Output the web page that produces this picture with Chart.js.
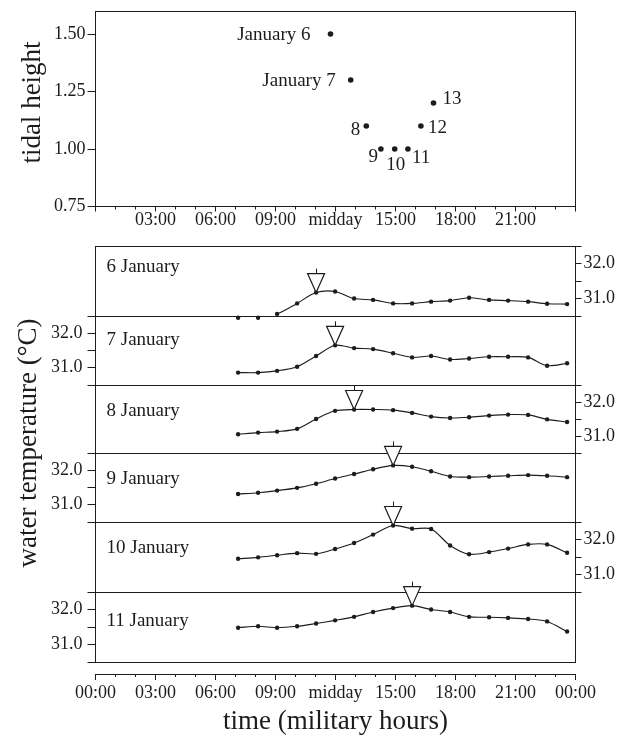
<!DOCTYPE html>
<html><head><meta charset="utf-8">
<script src="https://cdn.jsdelivr.net/npm/chart.js@4.4.1/dist/chart.umd.min.js"></script>
<style>
html,body{margin:0;padding:0;background:#fff;}
#wrap{position:relative;width:631px;height:738px;overflow:hidden;background:#fff;}
#wrap canvas{position:absolute;left:0;top:0;}
</style></head><body><div id="wrap"></div>
<script>
// ---------------- DATA ----------------
// sampling times (hours) of the water-temperature readings
const hours = [7.13, 8.13, 9.08, 10.08, 11.03, 11.98, 12.93, 13.88, 14.88, 15.83, 16.78, 17.73, 18.68, 19.68, 20.63, 21.63, 22.58, 23.58];
const stripNames = ['6 January', '7 January', '8 January', '9 January', '10 January', '11 January'];
const temp6Jan  = [30.45, 30.45, 30.56, 30.86, 31.17, 31.20, 31.00, 30.96, 30.86, 30.86, 30.91, 30.94, 31.02, 30.96, 30.94, 30.91, 30.85, 30.84];
const temp7Jan  = [30.86, 30.86, 30.91, 31.03, 31.34, 31.65, 31.57, 31.54, 31.42, 31.30, 31.34, 31.24, 31.27, 31.32, 31.32, 31.30, 31.06, 31.13];
const temp8Jan  = [31.05, 31.10, 31.13, 31.21, 31.50, 31.74, 31.78, 31.78, 31.76, 31.68, 31.57, 31.53, 31.55, 31.60, 31.63, 31.62, 31.49, 31.41];
const temp9Jan  = [31.31, 31.35, 31.41, 31.49, 31.61, 31.76, 31.89, 32.03, 32.14, 32.10, 31.97, 31.82, 31.80, 31.82, 31.84, 31.86, 31.84, 31.80];
const temp10Jan = [31.45, 31.49, 31.55, 31.61, 31.59, 31.73, 31.90, 32.14, 32.40, 32.31, 32.30, 31.83, 31.58, 31.64, 31.74, 31.86, 31.86, 31.62];
const temp11Jan = [31.48, 31.52, 31.48, 31.52, 31.60, 31.69, 31.79, 31.93, 32.04, 32.11, 32.00, 31.93, 31.79, 31.78, 31.76, 31.73, 31.66, 31.37];
// index of the reading marked by the high-tide triangle in each strip
const peakIndex = [4, 5, 6, 8, 8, 9];

// tidal heights (top panel)
const tideHours   = [11.75, 12.76, 13.54, 14.27, 14.96, 15.62, 16.27, 16.90];
const tideHeights = [1.50, 1.30, 1.10, 1.00, 1.00, 1.00, 1.10, 1.20];
const tideLabels  = ['January 6', 'January 7', '8', '9', '10', '11', '12', '13'];

// tick values / labels
const timeTickValues   = [0, 3, 6, 9, 12, 15, 18, 21, 24];
const topTimeLabels    = ['', '03:00', '06:00', '09:00', 'midday', '15:00', '18:00', '21:00', ''];
const bottomTimeLabels = ['00:00', '03:00', '06:00', '09:00', 'midday', '15:00', '18:00', '21:00', '00:00'];
const minorHourTicks   = [1, 2, 4, 5, 7, 8, 10, 11, 13, 14, 16, 17, 19, 20, 22, 23];
const tideTickValues   = [0.75, 1.00, 1.25, 1.50];
const tempTickValues   = [30.5, 31.0, 31.5, 32.0, 32.5];
const tempTickLabels   = ['', '31.0', '', '32.0', ''];

// ---------------- LAYOUT / STYLE ----------------
const W = 631, H = 738, L = 95.5, R = 575.5;
const INK = '#1c1c1c';
const SERIF = '"Liberation Serif", "Times New Roman", serif';
const TEMP_MIN = 30.5, TEMP_MAX = 32.5;
const stripBox = [[246, 316], [316, 385], [385, 453], [453, 522], [522, 592], [592, 662]];
const stripAxisSide = ['right', 'left', 'right', 'left', 'right', 'left'];
const stripLabelDy = [21, 24, 26, 26, 26, 29];
const tideLabelStyle = [
  {align: 'right', dx: -20, dy: 1}, {align: 'right', dx: -15, dy: 1},
  {align: 'right', dx: -6, dy: 4},  {align: 'right', dx: -3, dy: 8},
  {align: 'center', dx: 1, dy: 16}, {align: 'left', dx: 4, dy: 9},
  {align: 'left', dx: 7, dy: 2},    {align: 'left', dx: 9, dy: -4}
];

Chart.defaults.font.family = SERIF;
Chart.defaults.color = INK;

const wrap = document.getElementById('wrap');
function makeCanvas() {
  const c = document.createElement('canvas');
  c.width = W; c.height = H;
  c.style.width = W + 'px'; c.style.height = H + 'px';
  wrap.appendChild(c);
  return c;
}
const al = v => Math.round(v - 0.5) + 0.5;

// ---------------- PLUGINS ----------------
const framePlugin = {
  id: 'frame',
  beforeDatasetsDraw(chart, args, opts) {
    if (!opts.on) return;
    const {ctx, chartArea: a} = chart;
    ctx.save();
    ctx.strokeStyle = INK; ctx.lineWidth = 1;
    ctx.strokeRect(al(a.left), al(a.top), al(a.right) - al(a.left), al(a.bottom) - al(a.top));
    ctx.restore();
  }
};
const minorTickPlugin = {
  id: 'minorTicks',
  afterDraw(chart, args, opts) {
    if (!opts.values) return;
    const s = chart.scales.x, ctx = chart.ctx;
    ctx.save();
    ctx.strokeStyle = INK; ctx.lineWidth = 1;
    ctx.beginPath();
    opts.values.forEach(v => {
      const x = al(s.getPixelForValue(v));
      ctx.moveTo(x, s.top); ctx.lineTo(x, s.top + opts.len);
    });
    ctx.stroke();
    ctx.restore();
  }
};
const vTitlePlugin = {
  id: 'vTitles',
  afterDraw(chart, args, opts) {
    if (!opts.items) return;
    const ctx = chart.ctx;
    opts.items.forEach(it => {
      ctx.save();
      ctx.translate(it.x, it.y);
      ctx.rotate(-Math.PI / 2);
      ctx.font = '27px ' + SERIF;
      ctx.fillStyle = INK;
      ctx.textAlign = 'center'; ctx.textBaseline = 'middle';
      ctx.fillText(it.text, 0, 0);
      ctx.restore();
    });
  }
};
const stripLabelPlugin = {
  id: 'stripLabel',
  afterDraw(chart, args, opts) {
    if (!opts.text) return;
    const {ctx, chartArea: a} = chart;
    ctx.save();
    ctx.font = '19px ' + SERIF; ctx.fillStyle = INK;
    ctx.textAlign = 'left'; ctx.textBaseline = 'middle';
    ctx.fillText(opts.text, a.left + 11, a.top + opts.dy);
    ctx.restore();
  }
};
const markerPlugin = {
  id: 'tideMarker',
  afterDatasetsDraw(chart, args, opts) {
    if (opts.index == null) return;
    const p = chart.getDatasetMeta(0).data[opts.index];
    if (!p) return;
    const ctx = chart.ctx, hw = 8.5, h = 19;
    ctx.save();
    ctx.beginPath();
    ctx.moveTo(p.x, p.y);
    ctx.lineTo(p.x - hw, p.y - h);
    ctx.lineTo(p.x + hw, p.y - h);
    ctx.closePath();
    ctx.fillStyle = '#fff'; ctx.fill();
    ctx.strokeStyle = INK; ctx.lineWidth = 1.2; ctx.stroke();
    ctx.beginPath();
    ctx.moveTo(al(p.x), p.y - h); ctx.lineTo(al(p.x), p.y - h - 5);
    ctx.lineWidth = 1; ctx.stroke();
    ctx.restore();
  }
};
const tideLabelPlugin = {
  id: 'tideLabels',
  afterDatasetsDraw(chart, args, opts) {
    if (!opts.on) return;
    const ctx = chart.ctx, pts = chart.getDatasetMeta(0).data;
    ctx.save();
    ctx.font = '19px ' + SERIF; ctx.fillStyle = INK; ctx.textBaseline = 'middle';
    pts.forEach((p, i) => {
      const st = tideLabelStyle[i];
      ctx.textAlign = st.align;
      ctx.fillText(tideLabels[i], p.x + st.dx, p.y + st.dy);
    });
    ctx.restore();
  }
};
const allPlugins = [framePlugin, minorTickPlugin, vTitlePlugin, stripLabelPlugin, markerPlugin, tideLabelPlugin];
const basePlugins = {legend: {display: false}, tooltip: {enabled: false}};

// ---------------- TOP PANEL: tidal height ----------------
new Chart(makeCanvas(), {
  type: 'scatter',
  data: {datasets: [{
    data: tideHours.map((h, i) => ({x: h, y: tideHeights[i]})),
    pointRadius: 2.8, pointBackgroundColor: INK, pointBorderWidth: 0, showLine: false
  }]},
  options: {
    responsive: false, animation: false, events: [],
    layout: {padding: {top: 10, left: 0, right: W - R, bottom: H - 206.5 - 30}},
    scales: {
      x: {
        type: 'linear', min: 0, max: 24, position: 'bottom',
        afterFit: s => { s.height = 30; },
        afterBuildTicks: s => { s.ticks = timeTickValues.map(v => ({value: v})); },
        ticks: {callback: (v, i) => topTimeLabels[i], autoSkip: false, maxRotation: 0, padding: 0,
                font: {size: 18, lineHeight: 1}, color: INK},
        grid: {drawOnChartArea: false, tickLength: 5, color: INK},
        border: {display: true, color: INK}
      },
      y: {
        type: 'linear', min: 0.75, max: 1.6, position: 'left',
        afterFit: s => { s.width = L; },
        afterBuildTicks: s => { s.ticks = tideTickValues.map(v => ({value: v})); },
        ticks: {callback: v => Number(v).toFixed(2), autoSkip: false, padding: 2,
                font: {size: 18, lineHeight: 1}, color: INK},
        grid: {drawOnChartArea: false, tickLength: 8, color: INK},
        border: {display: true, color: INK}
      }
    },
    plugins: Object.assign({}, basePlugins, {
      frame: {on: true},
      minorTicks: {values: minorHourTicks, len: 3},
      vTitles: {items: [{text: 'tidal height', x: 33, y: 102.5}]},
      tideLabels: {on: true}
    })
  },
  plugins: allPlugins
});

// ---------------- STRIPS: water temperature ----------------
const stripTemps = [temp6Jan, temp7Jan, temp8Jan, temp9Jan, temp10Jan, temp11Jan];
stripTemps.forEach((vals, k) => {
  const [top, bottom] = stripBox[k];
  const side = stripAxisSide[k];
  new Chart(makeCanvas(), {
    type: 'line',
    data: {datasets: [{
      data: hours.map((h, i) => ({x: h, y: vals[i]})),
      borderColor: INK, borderWidth: 1.1, tension: 0.3,
      pointRadius: 2.2, pointBackgroundColor: INK, pointBorderWidth: 0,
      clip: false, fill: false,
      segment: {borderColor: c => (c.p0.parsed.y < TEMP_MIN || c.p1.parsed.y < TEMP_MIN) ? 'rgba(0,0,0,0)' : INK}
    }]},
    options: {
      responsive: false, animation: false, events: [],
      layout: {padding: {top: top, bottom: H - bottom,
                         left: side === 'left' ? 0 : L, right: side === 'left' ? W - R : 0}},
      scales: {
        x: {type: 'linear', min: 0, max: 24, display: false},
        y: {
          type: 'linear', position: side, min: TEMP_MIN, max: TEMP_MAX,
          afterFit: s => { s.width = side === 'left' ? L : W - R; },
          afterBuildTicks: s => { s.ticks = tempTickValues.map(v => ({value: v})); },
          ticks: {callback: (v, i) => tempTickLabels[i], autoSkip: false,
                  padding: side === 'left' ? 5 : 2, font: {size: 18, lineHeight: 1}, color: INK},
          grid: {drawOnChartArea: false, tickLength: side === 'left' ? 8 : 6, color: INK},
          border: {display: true, color: INK}
        }
      },
      plugins: Object.assign({}, basePlugins, {
        frame: {on: true},
        stripLabel: {text: stripNames[k], dy: stripLabelDy[k]},
        tideMarker: {index: peakIndex[k]}
      })
    },
    plugins: allPlugins
  });
});

// ---------------- BOTTOM TIME AXIS ----------------
new Chart(makeCanvas(), {
  type: 'line',
  data: {datasets: []},
  options: {
    responsive: false, animation: false, events: [],
    layout: {padding: {top: 664, bottom: 0, left: L, right: W - R}},
    scales: {
      x: {
        type: 'linear', min: 0, max: 24, position: 'bottom',
        afterFit: s => { s.height = H - 674; },
        afterBuildTicks: s => { s.ticks = timeTickValues.map(v => ({value: v})); },
        ticks: {callback: (v, i) => bottomTimeLabels[i], autoSkip: false, maxRotation: 0, padding: 4,
                font: {size: 18, lineHeight: 1}, color: INK},
        grid: {drawOnChartArea: false, tickLength: 6, color: INK},
        border: {display: true, color: INK},
        title: {display: true, text: 'time (military hours)', font: {size: 27, lineHeight: 1.2},
                padding: 0, color: INK}
      },
      y: {type: 'linear', min: 0, max: 1, display: false}
    },
    plugins: Object.assign({}, basePlugins, {
      minorTicks: {values: minorHourTicks, len: 3},
      vTitles: {items: [{text: 'water temperature (°C)', x: 29, y: 443}]}
    })
  },
  plugins: allPlugins
});
</script>
</body></html>
